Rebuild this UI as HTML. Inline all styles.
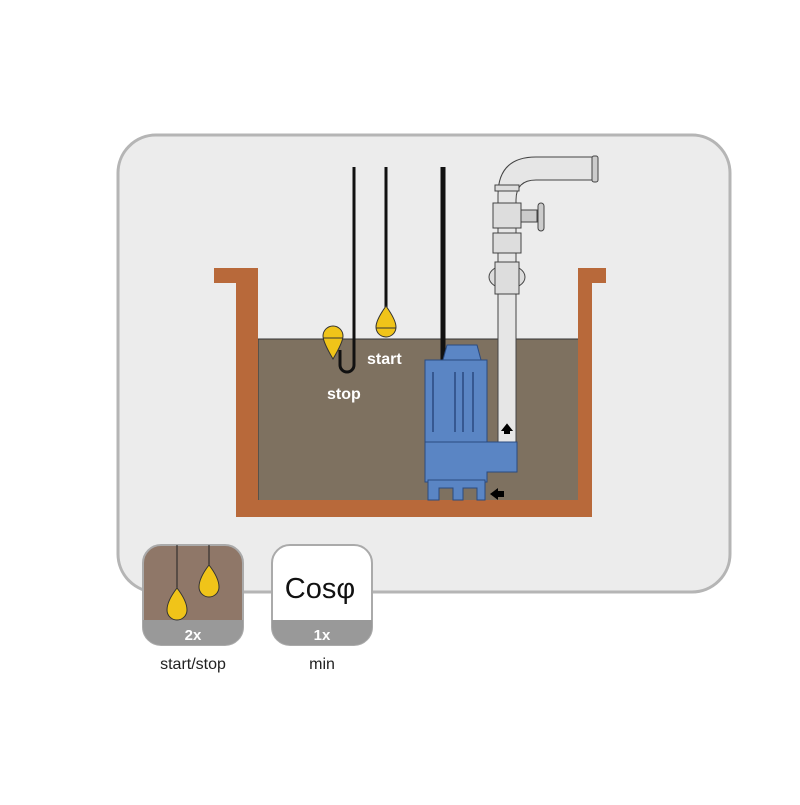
<!DOCTYPE html>
<html><head><style>
body{margin:0;background:#fff;width:800px;height:800px;overflow:hidden;font-family:"Liberation Sans",sans-serif}
</style></head><body>
<svg width="800" height="800" xmlns="http://www.w3.org/2000/svg" font-family="Liberation Sans, sans-serif">
<rect x="118" y="135" width="612" height="457" rx="38" fill="#ececec" stroke="#b5b5b5" stroke-width="3"/>
<!-- water -->
<rect x="258" y="339" width="321" height="162" fill="#7e7160" stroke="#333" stroke-width="1"/>
<!-- tank -->
<path d="M214 268H258V500H578V268H606V283H592V517H236V283H214Z" fill="#b8693a"/>
<!-- cords -->
<path d="M354 167V365a7 7 0 0 1 -14 0V350" fill="none" stroke="#111" stroke-width="3"/>
<line x1="386" y1="167" x2="386" y2="308" stroke="#111" stroke-width="3"/>
<line x1="443" y1="167" x2="443" y2="370" stroke="#111" stroke-width="5"/>
<path d="M333 326a10 10 0 0 1 10 10q0 6 -10 23q-10 -17 -10 -23a10 10 0 0 1 10 -10z" fill="#f0c419" stroke="#333"/>
<line x1="323" y1="338" x2="343" y2="338" stroke="#333"/>
<path d="M386 306q10 14 10 21a10 10 0 0 1 -20 0q0 -7 10 -21z" fill="#f0c419" stroke="#333"/>
<line x1="376" y1="328" x2="396" y2="328" stroke="#333"/>
<text x="367" y="364" fill="#fff" font-size="16" font-weight="bold">start</text>
<text x="327" y="399" fill="#fff" font-size="16" font-weight="bold">stop</text>
<!-- pipe -->
<path d="M498 445V195q0-38 38-38H597V180H536q-20 0-20 20V445Z" fill="#e6e6e6" stroke="#444"/>
<rect x="495" y="185" width="24" height="6" fill="#ddd" stroke="#444"/>
<rect x="493" y="203" width="28" height="25" fill="#ddd" stroke="#444"/>
<rect x="521" y="210" width="16" height="12" fill="#ccc" stroke="#444"/>
<rect x="538" y="203" width="6" height="28" rx="3" fill="#ccc" stroke="#444"/>
<rect x="493" y="233" width="28" height="20" fill="#ddd" stroke="#444"/>
<ellipse cx="507" cy="277" rx="18" ry="12" fill="#ddd" stroke="#444"/>
<rect x="495" y="262" width="24" height="32" fill="#ddd" stroke="#444"/>
<rect x="592" y="156" width="6" height="26" rx="2" fill="#ccc" stroke="#444"/>
<path d="M503 430l4-5 4 5h-2v3h-4v-3z" fill="#000" stroke="#000" stroke-width="2"/>
<!-- pump -->
<path d="M447 345h30l4 15h-38z" fill="#5b86c5" stroke="#2a4a80"/>
<path d="M425 360h62v82h-62z" fill="#5a85c4" stroke="#2a4a80"/>
<path d="M455 372v60M463 372v60M473 372v60M433 372v60" stroke="#2a4a80" stroke-width="1.5"/>
<path d="M425 442h92v30h-30v10h-62z" fill="#5a85c4" stroke="#2a4a80"/>
<path d="M428 480h57v20h-8v-12h-14v12h-10v-12h-14v12h-11z" fill="#5a85c4" stroke="#2a4a80"/>
<path d="M490 494l8-6v12z" fill="#000"/>
<rect x="496" y="491" width="8" height="6" fill="#000"/>
<!-- icons -->
<rect x="143" y="545" width="100" height="100" rx="18" fill="#8f7768" stroke="#aaa" stroke-width="2"/>
<path d="M143 620H243V627a18 18 0 0 1 -18 18H161a18 18 0 0 1 -18 -18Z" fill="#999"/>
<text x="193" y="640" fill="#fff" font-size="15" font-weight="bold" text-anchor="middle">2x</text>
<line x1="177" y1="545" x2="177" y2="588" stroke="#222"/>
<line x1="209" y1="545" x2="209" y2="565" stroke="#222"/>
<path d="M177 588q10 13 10 22a10 10 0 0 1 -20 0q0 -9 10 -22z" fill="#f0c419" stroke="#333"/>
<path d="M209 565q10 13 10 22a10 10 0 0 1 -20 0q0 -9 10 -22z" fill="#f0c419" stroke="#333"/>
<rect x="272" y="545" width="100" height="100" rx="18" fill="#fff" stroke="#aaa" stroke-width="2"/>
<path d="M272 620H372V627a18 18 0 0 1 -18 18H290a18 18 0 0 1 -18 -18Z" fill="#999"/>
<text x="322" y="640" fill="#fff" font-size="15" font-weight="bold" text-anchor="middle">1x</text>
<text x="320" y="598" fill="#111" font-size="29" text-anchor="middle">Cosφ</text>
<text x="193" y="669" fill="#222" font-size="16" text-anchor="middle">start/stop</text>
<text x="322" y="669" fill="#222" font-size="16" text-anchor="middle">min</text>
</svg>
</body></html>
